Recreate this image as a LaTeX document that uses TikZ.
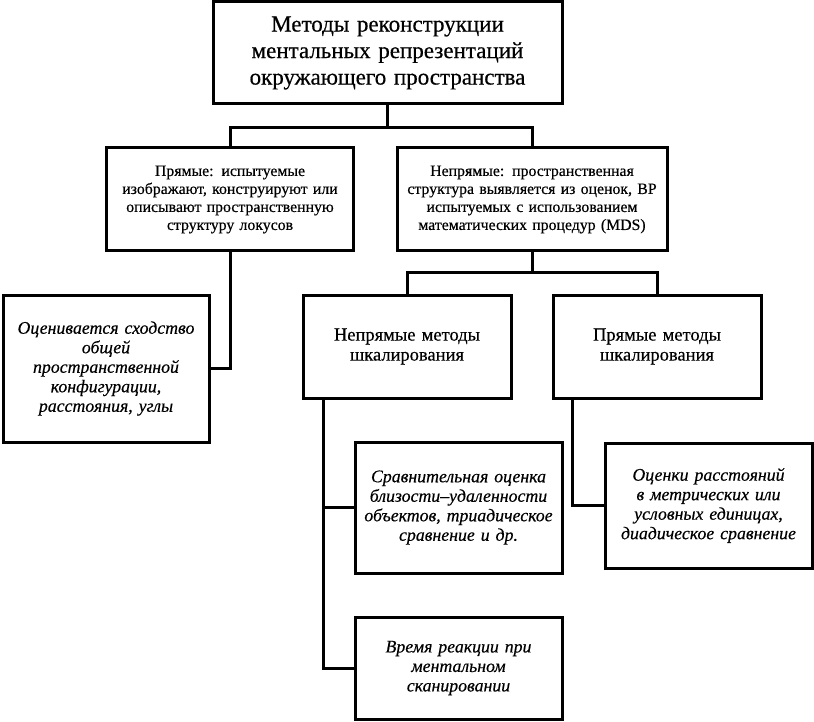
\documentclass[tikz,border=0pt]{standalone}
\usepackage{fontspec}
\setmainfont{Liberation Serif}[UprightFeatures={FakeBold=0.4},ItalicFeatures={FakeBold=0.4}]
\usetikzlibrary{calc}
\begin{document}
\begin{tikzpicture}[x=1pt,y=-1pt,
  box/.style={draw=black,line width=3pt,inner sep=0pt,align=center,font=\fontsize{15.8}{18}\selectfont},
  ibox/.style={box,font=\fontsize{17.8}{19.5}\selectfont\itshape},
  mbox/.style={box,font=\fontsize{18.5}{20}\selectfont},
  conn/.style={draw=black,line width=3pt}]
\useasboundingbox (0,0) rectangle (814,722);
\node[box,minimum width=349pt,minimum height=102pt,text width=340pt,font=\fontsize{23}{26.5}\selectfont] (top) at (387.5,53)
  {Методы реконструкции\\ментальных репрезентаций\\окружающего пространства};
\node[box,minimum width=247pt,minimum height=103pt,text width=240pt] (b2) at (230,199.5)
  {Прямые: испытуемые\\изображают, конструируют или\\описывают пространственную\\структуру локусов};
\node[box,minimum width=270pt,minimum height=103pt,text width=266pt] (b3) at (532,199.5)
  {Непрямые: пространственная\\структура выявляется из оценок, ВР\\испытуемых с использованием\\математических процедур (MDS)};
\node[ibox,minimum width=206pt,minimum height=147pt,text width=200pt] (b4) at (106,368.5)
  {Оценивается сходство\\общей\\пространственной\\конфигурации,\\расстояния, углы};
\node[mbox,minimum width=208pt,minimum height=103pt,text width=200pt] (b5) at (407,346.5)
  {Непрямые методы\\шкалирования};
\node[mbox,minimum width=208pt,minimum height=103pt,text width=200pt] (b6) at (657,346.5)
  {Прямые методы\\шкалирования};
\node[ibox,minimum width=207pt,minimum height=131pt,text width=204pt] (b7) at (458.5,507.5)
  {Сравнительная оценка\\близости–удаленности\\объектов, триадическое\\сравнение и др.};
\node[ibox,minimum width=207pt,minimum height=125pt,text width=204pt] (b8) at (708.5,505.5)
  {Оценки расстояний\\в метрических или\\условных единицах,\\диадическое сравнение};
\node[ibox,minimum width=207pt,minimum height=102pt,text width=204pt] (b9) at (458.5,668)
  {Время реакции при\\ментальном\\сканировании};
\coordinate (j1) at (387.5,128);
\coordinate (j2) at (532,272);
\path[conn] (top.south) -- (j1);
\path[conn] (b2.north) |- (j1) -| (b3.north);
\path[conn] (b3.south) -- (j2);
\path[conn] (b5.north) |- (j2) -| (b6.north);
\path[conn] (b2.south) |- (b4.east);
\coordinate (s5) at ($(b5.south west)+(22,0)$);
\coordinate (s6) at ($(b6.south west)+(21,0)$);
\path[conn] (s5) |- (b9.west);
\path[conn] (b7.west) -- (b7.west -| s5);
\path[conn] (s6) |- (b8.west);
\end{tikzpicture}
\end{document}
